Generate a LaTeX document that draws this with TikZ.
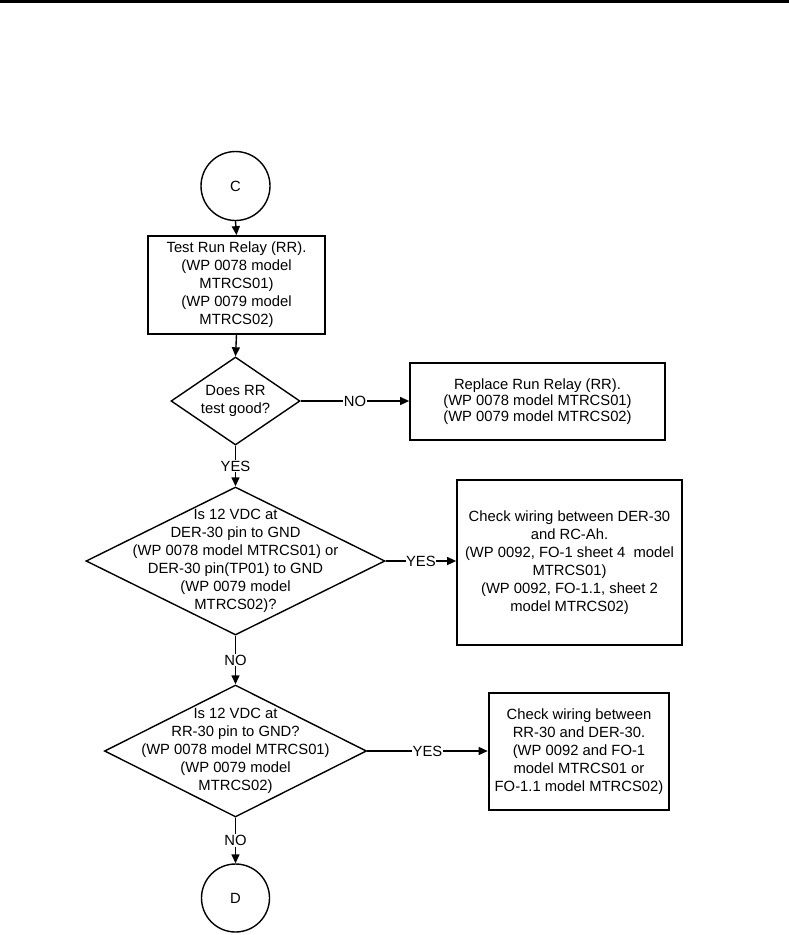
\documentclass[tikz,border=0pt]{standalone}
\usepackage{fontspec}
\setmainfont{Liberation Sans}
\usetikzlibrary{shapes.geometric,arrows.meta}
\tikzset{
  txt/.style={font=\fontsize{14.8}{18}\selectfont, align=center, inner sep=0pt},
  boxnode/.style={draw, line width=1.7pt, rectangle, inner sep=0pt, txt},
  dianode/.style={draw, line width=1.4pt, diamond, inner sep=0pt},
  circnode/.style={draw, line width=1.4pt, circle, inner sep=0pt, txt},
  arr/.style={draw, line width=1.4pt, -{Triangle[length=9pt,width=8pt]}},
  lab/.style={fill=white, inner sep=1pt, font=\fontsize{14.8}{18}\selectfont}
}
\begin{document}
\begin{tikzpicture}[x=1pt,y=-1pt]
\useasboundingbox (0,0) rectangle (789,935);
\fill (0,0) rectangle (789,2.6);

\node[circnode, minimum size=69pt] (C) at (235.5,186) {C};
\node[boxnode, minimum width=177pt, minimum height=98pt] (b1) at (236.5,285)
  {Test Run Relay (RR).\\(WP 0078 model\\MTRCS01)\\(WP 0079 model\\MTRCS02)};

\node[dianode, minimum width=129pt, minimum height=88pt] (d1) at (235.5,401) {};
\node[txt] (t1) at (d1.center) {Does RR\\test good?};

\node[boxnode, minimum width=255pt, minimum height=77pt, font=\fontsize{14.8}{16}\selectfont] (b2) at (537.5,401.5)
  {Replace Run Relay (RR).\\(WP 0078 model MTRCS01)\\(WP 0079 model MTRCS02)};

\node[dianode, minimum width=299pt, minimum height=148pt] (d2) at (235.5,561) {};
\node[txt] (t2) at (d2.center) {Is 12 VDC at\\DER-30 pin to GND\\(WP 0078 model MTRCS01) or\\DER-30 pin(TP01) to GND\\(WP 0079 model\\MTRCS02)?};

\node[boxnode, minimum width=225pt, minimum height=165pt] (b3) at (569.5,562.5)
  {Check wiring between DER-30\\and RC-Ah.\\(WP 0092, FO-1 sheet 4 \ model\\MTRCS01)\\(WP 0092, FO-1.1, sheet 2\\model MTRCS02)};

\node[dianode, minimum width=262pt, minimum height=132pt] (d3) at (235.5,751) {};
\node[txt] (t3) at (d3.center) {Is 12 VDC at\\RR-30 pin to GND?\\(WP 0078 model MTRCS01)\\(WP 0079 model\\MTRCS02)};

\node[boxnode, line width=2.6pt, minimum width=180pt, minimum height=117pt] (b4) at (579,751.5)
  {Check wiring between\\RR-30 and DER-30.\\(WP 0092 and FO-1\\model MTRCS01 or\\FO-1.1 model MTRCS02)};

\node[circnode, minimum size=68pt] (D) at (235.5,898) {D};

\draw[arr] (C.south) -- (b1.north);
\draw[arr] (b1.south) -- (d1.north);
\draw[arr] (d1.east) -- node[lab]{NO} (d1.east -| b2.west);
\draw[arr] (d1.south) -- node[lab]{YES} (d2.north);
\draw[arr] (d2.east) -- node[lab, inner sep=0.5pt]{YES} (d2.east -| b3.west);
\draw[arr] (d2.south) -- node[lab]{NO} (d3.north);
\draw[arr] (d3.east) -- node[lab]{YES} (d3.east -| b4.west);
\draw[arr] (d3.south) -- node[lab]{NO} (D.north);
\end{tikzpicture}
\end{document}
